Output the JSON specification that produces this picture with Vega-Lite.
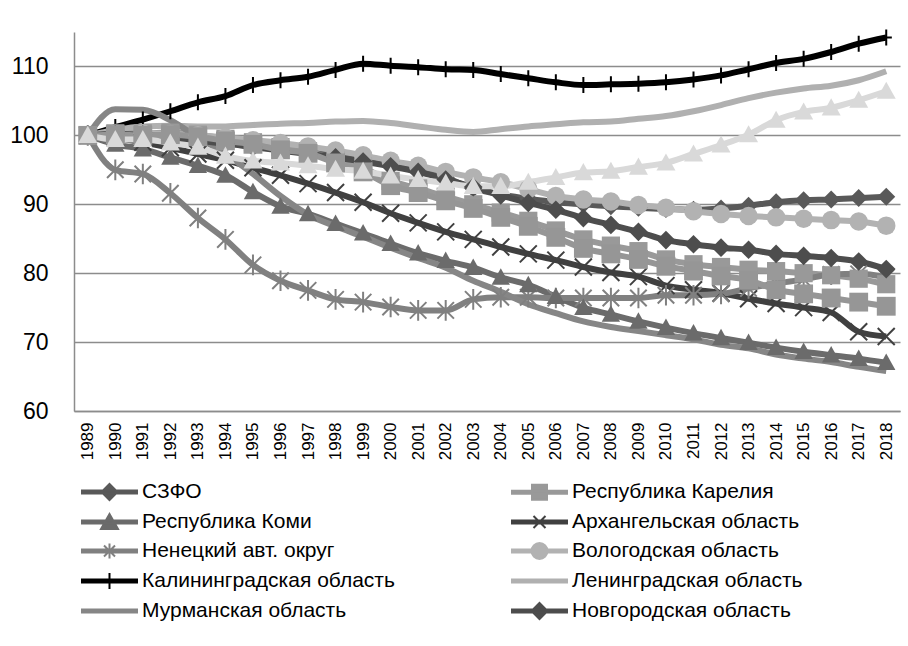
{
"$schema":"https://vega.github.io/schema/vega-lite/v6.json",
"width":826,"height":379,
"autosize":{"type":"none"},
"padding":{"left":74,"top":32,"right":8,"bottom":235},
"background":"white",
"config":{"font":"Liberation Sans","view":{"stroke":null}},
"data":{"values":[
{"year":"1989","region":"СЗФО","index":100},{"year":"1990","region":"СЗФО","index":100.4},{"year":"1991","region":"СЗФО","index":100.3},{"year":"1992","region":"СЗФО","index":99.9},{"year":"1993","region":"СЗФО","index":99.4},{"year":"1994","region":"СЗФО","index":99.0},{"year":"1995","region":"СЗФО","index":98.6},{"year":"1996","region":"СЗФО","index":98.2},{"year":"1997","region":"СЗФО","index":97.8},{"year":"1998","region":"СЗФО","index":97.3},{"year":"1999","region":"СЗФО","index":96.8},{"year":"2000","region":"СЗФО","index":96.2},{"year":"2001","region":"СЗФО","index":95.4},{"year":"2002","region":"СЗФО","index":93.9},{"year":"2003","region":"СЗФО","index":92.3},{"year":"2004","region":"СЗФО","index":91.4},{"year":"2005","region":"СЗФО","index":90.8},{"year":"2006","region":"СЗФО","index":90.3},{"year":"2007","region":"СЗФО","index":90.0},{"year":"2008","region":"СЗФО","index":89.7},{"year":"2009","region":"СЗФО","index":89.5},{"year":"2010","region":"СЗФО","index":89.3},{"year":"2011","region":"СЗФО","index":89.2},{"year":"2012","region":"СЗФО","index":89.4},{"year":"2013","region":"СЗФО","index":89.8},{"year":"2014","region":"СЗФО","index":90.3},{"year":"2015","region":"СЗФО","index":90.6},{"year":"2016","region":"СЗФО","index":90.7},{"year":"2017","region":"СЗФО","index":90.9},{"year":"2018","region":"СЗФО","index":91.1},
{"year":"1989","region":"Республика Карелия","index":100},{"year":"1990","region":"Республика Карелия","index":100.3},{"year":"1991","region":"Республика Карелия","index":100.3},{"year":"1992","region":"Республика Карелия","index":100.4},{"year":"1993","region":"Республика Карелия","index":100.1},{"year":"1994","region":"Республика Карелия","index":99.5},{"year":"1995","region":"Республика Карелия","index":99.0},{"year":"1996","region":"Республика Карелия","index":98.3},{"year":"1997","region":"Республика Карелия","index":97.7},{"year":"1998","region":"Республика Карелия","index":96.4},{"year":"1999","region":"Республика Карелия","index":95.3},{"year":"2000","region":"Республика Карелия","index":93.4},{"year":"2001","region":"Республика Карелия","index":92.3},{"year":"2002","region":"Республика Карелия","index":91.1},{"year":"2003","region":"Республика Карелия","index":90.0},{"year":"2004","region":"Республика Карелия","index":88.8},{"year":"2005","region":"Республика Карелия","index":87.6},{"year":"2006","region":"Республика Карелия","index":86.2},{"year":"2007","region":"Республика Карелия","index":84.9},{"year":"2008","region":"Республика Карелия","index":84.0},{"year":"2009","region":"Республика Карелия","index":83.2},{"year":"2010","region":"Республика Карелия","index":82.0},{"year":"2011","region":"Республика Карелия","index":81.3},{"year":"2012","region":"Республика Карелия","index":80.9},{"year":"2013","region":"Республика Карелия","index":80.5},{"year":"2014","region":"Республика Карелия","index":80.3},{"year":"2015","region":"Республика Карелия","index":80.0},{"year":"2016","region":"Республика Карелия","index":79.7},{"year":"2017","region":"Республика Карелия","index":79.2},{"year":"2018","region":"Республика Карелия","index":78.4},
{"year":"1989","region":"Республика Коми","index":100},{"year":"1990","region":"Республика Коми","index":98.7},{"year":"1991","region":"Республика Коми","index":98.0},{"year":"1992","region":"Республика Коми","index":96.8},{"year":"1993","region":"Республика Коми","index":95.6},{"year":"1994","region":"Республика Коми","index":94.2},{"year":"1995","region":"Республика Коми","index":91.8},{"year":"1996","region":"Республика Коми","index":89.7},{"year":"1997","region":"Республика Коми","index":88.6},{"year":"1998","region":"Республика Коми","index":87.2},{"year":"1999","region":"Республика Коми","index":85.8},{"year":"2000","region":"Республика Коми","index":84.3},{"year":"2001","region":"Республика Коми","index":82.9},{"year":"2002","region":"Республика Коми","index":81.8},{"year":"2003","region":"Республика Коми","index":80.8},{"year":"2004","region":"Республика Коми","index":79.4},{"year":"2005","region":"Республика Коми","index":78.3},{"year":"2006","region":"Республика Коми","index":76.6},{"year":"2007","region":"Республика Коми","index":75.0},{"year":"2008","region":"Республика Коми","index":74.0},{"year":"2009","region":"Республика Коми","index":73.0},{"year":"2010","region":"Республика Коми","index":72.1},{"year":"2011","region":"Республика Коми","index":71.3},{"year":"2012","region":"Республика Коми","index":70.6},{"year":"2013","region":"Республика Коми","index":69.9},{"year":"2014","region":"Республика Коми","index":69.2},{"year":"2015","region":"Республика Коми","index":68.6},{"year":"2016","region":"Республика Коми","index":68.1},{"year":"2017","region":"Республика Коми","index":67.6},{"year":"2018","region":"Республика Коми","index":67.0},
{"year":"1989","region":"Архангельская область","index":100},{"year":"1990","region":"Архангельская область","index":99.6},{"year":"1991","region":"Архангельская область","index":99.0},{"year":"1992","region":"Архангельская область","index":98.2},{"year":"1993","region":"Архангельская область","index":97.3},{"year":"1994","region":"Архангельская область","index":96.4},{"year":"1995","region":"Архангельская область","index":95.3},{"year":"1996","region":"Архангельская область","index":94.2},{"year":"1997","region":"Архангельская область","index":93.0},{"year":"1998","region":"Архангельская область","index":91.7},{"year":"1999","region":"Архангельская область","index":90.3},{"year":"2000","region":"Архангельская область","index":88.7},{"year":"2001","region":"Архангельская область","index":87.3},{"year":"2002","region":"Архангельская область","index":86.0},{"year":"2003","region":"Архангельская область","index":84.9},{"year":"2004","region":"Архангельская область","index":83.8},{"year":"2005","region":"Архангельская область","index":82.8},{"year":"2006","region":"Архангельская область","index":81.9},{"year":"2007","region":"Архангельская область","index":80.9},{"year":"2008","region":"Архангельская область","index":80.1},{"year":"2009","region":"Архангельская область","index":79.5},{"year":"2010","region":"Архангельская область","index":78.2},{"year":"2011","region":"Архангельская область","index":77.6},{"year":"2012","region":"Архангельская область","index":77.1},{"year":"2013","region":"Архангельская область","index":76.3},{"year":"2014","region":"Архангельская область","index":75.6},{"year":"2015","region":"Архангельская область","index":75.0},{"year":"2016","region":"Архангельская область","index":74.3},{"year":"2017","region":"Архангельская область","index":71.5},{"year":"2018","region":"Архангельская область","index":70.8},
{"year":"1989","region":"Ненецкий авт. округ","index":100},{"year":"1990","region":"Ненецкий авт. округ","index":95.0},{"year":"1991","region":"Ненецкий авт. округ","index":94.4},{"year":"1992","region":"Ненецкий авт. округ","index":91.6},{"year":"1993","region":"Ненецкий авт. округ","index":88.0},{"year":"1994","region":"Ненецкий авт. округ","index":84.9},{"year":"1995","region":"Ненецкий авт. округ","index":81.2},{"year":"1996","region":"Ненецкий авт. округ","index":78.9},{"year":"1997","region":"Ненецкий авт. округ","index":77.5},{"year":"1998","region":"Ненецкий авт. округ","index":76.2},{"year":"1999","region":"Ненецкий авт. округ","index":75.8},{"year":"2000","region":"Ненецкий авт. округ","index":75.1},{"year":"2001","region":"Ненецкий авт. округ","index":74.6},{"year":"2002","region":"Ненецкий авт. округ","index":74.6},{"year":"2003","region":"Ненецкий авт. округ","index":76.2},{"year":"2004","region":"Ненецкий авт. округ","index":76.5},{"year":"2005","region":"Ненецкий авт. округ","index":76.5},{"year":"2006","region":"Ненецкий авт. округ","index":76.4},{"year":"2007","region":"Ненецкий авт. округ","index":76.4},{"year":"2008","region":"Ненецкий авт. округ","index":76.4},{"year":"2009","region":"Ненецкий авт. округ","index":76.4},{"year":"2010","region":"Ненецкий авт. округ","index":76.8},{"year":"2011","region":"Ненецкий авт. округ","index":76.8},{"year":"2012","region":"Ненецкий авт. округ","index":77.0},{"year":"2013","region":"Ненецкий авт. округ","index":77.8},{"year":"2014","region":"Ненецкий авт. округ","index":78.5},{"year":"2015","region":"Ненецкий авт. округ","index":79.1},{"year":"2016","region":"Ненецкий авт. округ","index":79.8},{"year":"2017","region":"Ненецкий авт. округ","index":79.9},{"year":"2018","region":"Ненецкий авт. округ","index":79.4},
{"year":"1989","region":"Вологодская область","index":100},{"year":"1990","region":"Вологодская область","index":100.2},{"year":"1991","region":"Вологодская область","index":100.3},{"year":"1992","region":"Вологодская область","index":100.2},{"year":"1993","region":"Вологодская область","index":100.0},{"year":"1994","region":"Вологодская область","index":99.7},{"year":"1995","region":"Вологодская область","index":99.3},{"year":"1996","region":"Вологодская область","index":98.9},{"year":"1997","region":"Вологодская область","index":98.4},{"year":"1998","region":"Вологодская область","index":97.8},{"year":"1999","region":"Вологодская область","index":97.1},{"year":"2000","region":"Вологодская область","index":96.3},{"year":"2001","region":"Вологодская область","index":95.6},{"year":"2002","region":"Вологодская область","index":94.7},{"year":"2003","region":"Вологодская область","index":93.9},{"year":"2004","region":"Вологодская область","index":93.2},{"year":"2005","region":"Вологодская область","index":92.2},{"year":"2006","region":"Вологодская область","index":91.2},{"year":"2007","region":"Вологодская область","index":90.7},{"year":"2008","region":"Вологодская область","index":90.4},{"year":"2009","region":"Вологодская область","index":89.9},{"year":"2010","region":"Вологодская область","index":89.5},{"year":"2011","region":"Вологодская область","index":89.0},{"year":"2012","region":"Вологодская область","index":88.6},{"year":"2013","region":"Вологодская область","index":88.3},{"year":"2014","region":"Вологодская область","index":88.1},{"year":"2015","region":"Вологодская область","index":87.9},{"year":"2016","region":"Вологодская область","index":87.7},{"year":"2017","region":"Вологодская область","index":87.5},{"year":"2018","region":"Вологодская область","index":86.9},
{"year":"1989","region":"Калининградская область","index":100},{"year":"1990","region":"Калининградская область","index":101.2},{"year":"1991","region":"Калининградская область","index":102.3},{"year":"1992","region":"Калининградская область","index":103.5},{"year":"1993","region":"Калининградская область","index":104.8},{"year":"1994","region":"Калининградская область","index":105.7},{"year":"1995","region":"Калининградская область","index":107.3},{"year":"1996","region":"Калининградская область","index":108.0},{"year":"1997","region":"Калининградская область","index":108.5},{"year":"1998","region":"Калининградская область","index":109.5},{"year":"1999","region":"Калининградская область","index":110.4},{"year":"2000","region":"Калининградская область","index":110.1},{"year":"2001","region":"Калининградская область","index":109.9},{"year":"2002","region":"Калининградская область","index":109.6},{"year":"2003","region":"Калининградская область","index":109.5},{"year":"2004","region":"Калининградская область","index":108.9},{"year":"2005","region":"Калининградская область","index":108.3},{"year":"2006","region":"Калининградская область","index":107.7},{"year":"2007","region":"Калининградская область","index":107.3},{"year":"2008","region":"Калининградская область","index":107.4},{"year":"2009","region":"Калининградская область","index":107.5},{"year":"2010","region":"Калининградская область","index":107.7},{"year":"2011","region":"Калининградская область","index":108.1},{"year":"2012","region":"Калининградская область","index":108.7},{"year":"2013","region":"Калининградская область","index":109.6},{"year":"2014","region":"Калининградская область","index":110.5},{"year":"2015","region":"Калининградская область","index":111.1},{"year":"2016","region":"Калининградская область","index":112.1},{"year":"2017","region":"Калининградская область","index":113.3},{"year":"2018","region":"Калининградская область","index":114.2},
{"year":"1989","region":"Ленинградская область","index":100},{"year":"1990","region":"Ленинградская область","index":100.8},{"year":"1991","region":"Ленинградская область","index":101.3},{"year":"1992","region":"Ленинградская область","index":101.4},{"year":"1993","region":"Ленинградская область","index":101.3},{"year":"1994","region":"Ленинградская область","index":101.3},{"year":"1995","region":"Ленинградская область","index":101.5},{"year":"1996","region":"Ленинградская область","index":101.7},{"year":"1997","region":"Ленинградская область","index":101.8},{"year":"1998","region":"Ленинградская область","index":102.0},{"year":"1999","region":"Ленинградская область","index":102.1},{"year":"2000","region":"Ленинградская область","index":101.8},{"year":"2001","region":"Ленинградская область","index":101.3},{"year":"2002","region":"Ленинградская область","index":100.8},{"year":"2003","region":"Ленинградская область","index":100.5},{"year":"2004","region":"Ленинградская область","index":100.9},{"year":"2005","region":"Ленинградская область","index":101.3},{"year":"2006","region":"Ленинградская область","index":101.6},{"year":"2007","region":"Ленинградская область","index":101.9},{"year":"2008","region":"Ленинградская область","index":102.0},{"year":"2009","region":"Ленинградская область","index":102.4},{"year":"2010","region":"Ленинградская область","index":102.8},{"year":"2011","region":"Ленинградская область","index":103.5},{"year":"2012","region":"Ленинградская область","index":104.4},{"year":"2013","region":"Ленинградская область","index":105.4},{"year":"2014","region":"Ленинградская область","index":106.2},{"year":"2015","region":"Ленинградская область","index":106.8},{"year":"2016","region":"Ленинградская область","index":107.2},{"year":"2017","region":"Ленинградская область","index":108.0},{"year":"2018","region":"Ленинградская область","index":109.3},
{"year":"1989","region":"Мурманская область","index":100},{"year":"1990","region":"Мурманская область","index":103.8},{"year":"1991","region":"Мурманская область","index":103.7},{"year":"1992","region":"Мурманская область","index":102.2},{"year":"1993","region":"Мурманская область","index":99.7},{"year":"1994","region":"Мурманская область","index":97.3},{"year":"1995","region":"Мурманская область","index":94.4},{"year":"1996","region":"Мурманская область","index":91.2},{"year":"1997","region":"Мурманская область","index":88.5},{"year":"1998","region":"Мурманская область","index":86.8},{"year":"1999","region":"Мурманская область","index":85.3},{"year":"2000","region":"Мурманская область","index":83.7},{"year":"2001","region":"Мурманская область","index":82.2},{"year":"2002","region":"Мурманская область","index":80.8},{"year":"2003","region":"Мурманская область","index":78.9},{"year":"2004","region":"Мурманская область","index":77.3},{"year":"2005","region":"Мурманская область","index":75.5},{"year":"2006","region":"Мурманская область","index":74.2},{"year":"2007","region":"Мурманская область","index":73.0},{"year":"2008","region":"Мурманская область","index":72.2},{"year":"2009","region":"Мурманская область","index":71.6},{"year":"2010","region":"Мурманская область","index":71.0},{"year":"2011","region":"Мурманская область","index":70.4},{"year":"2012","region":"Мурманская область","index":69.6},{"year":"2013","region":"Мурманская область","index":69.1},{"year":"2014","region":"Мурманская область","index":68.2},{"year":"2015","region":"Мурманская область","index":67.6},{"year":"2016","region":"Мурманская область","index":67.1},{"year":"2017","region":"Мурманская область","index":66.4},{"year":"2018","region":"Мурманская область","index":65.8},
{"year":"1989","region":"Новгородская область","index":100},{"year":"1990","region":"Новгородская область","index":100.2},{"year":"1991","region":"Новгородская область","index":100.1},{"year":"1992","region":"Новгородская область","index":99.7},{"year":"1993","region":"Новгородская область","index":99.2},{"year":"1994","region":"Новгородская область","index":98.8},{"year":"1995","region":"Новгородская область","index":98.3},{"year":"1996","region":"Новгородская область","index":97.8},{"year":"1997","region":"Новгородская область","index":97.3},{"year":"1998","region":"Новгородская область","index":96.8},{"year":"1999","region":"Новгородская область","index":96.2},{"year":"2000","region":"Новгородская область","index":95.5},{"year":"2001","region":"Новгородская область","index":94.7},{"year":"2002","region":"Новгородская область","index":93.6},{"year":"2003","region":"Новгородская область","index":92.5},{"year":"2004","region":"Новгородская область","index":91.3},{"year":"2005","region":"Новгородская область","index":90.2},{"year":"2006","region":"Новгородская область","index":89.2},{"year":"2007","region":"Новгородская область","index":88.0},{"year":"2008","region":"Новгородская область","index":87.0},{"year":"2009","region":"Новгородская область","index":86.0},{"year":"2010","region":"Новгородская область","index":84.8},{"year":"2011","region":"Новгородская область","index":84.2},{"year":"2012","region":"Новгородская область","index":83.7},{"year":"2013","region":"Новгородская область","index":83.4},{"year":"2014","region":"Новгородская область","index":82.8},{"year":"2015","region":"Новгородская область","index":82.5},{"year":"2016","region":"Новгородская область","index":82.2},{"year":"2017","region":"Новгородская область","index":81.7},{"year":"2018","region":"Новгородская область","index":80.6},
{"year":"1989","region":"Псковская область","index":100},{"year":"1990","region":"Псковская область","index":100.1},{"year":"1991","region":"Псковская область","index":100.0},{"year":"1992","region":"Псковская область","index":100.1},{"year":"1993","region":"Псковская область","index":99.8},{"year":"1994","region":"Псковская область","index":99.2},{"year":"1995","region":"Псковская область","index":98.7},{"year":"1996","region":"Псковская область","index":97.9},{"year":"1997","region":"Псковская область","index":97.4},{"year":"1998","region":"Псковская область","index":96.0},{"year":"1999","region":"Псковская область","index":94.7},{"year":"2000","region":"Псковская область","index":92.7},{"year":"2001","region":"Псковская область","index":91.7},{"year":"2002","region":"Псковская область","index":90.5},{"year":"2003","region":"Псковская область","index":89.4},{"year":"2004","region":"Псковская область","index":88.1},{"year":"2005","region":"Псковская область","index":86.8},{"year":"2006","region":"Псковская область","index":85.2},{"year":"2007","region":"Псковская область","index":83.6},{"year":"2008","region":"Псковская область","index":82.8},{"year":"2009","region":"Псковская область","index":82.0},{"year":"2010","region":"Псковская область","index":81.0},{"year":"2011","region":"Псковская область","index":80.3},{"year":"2012","region":"Псковская область","index":79.6},{"year":"2013","region":"Псковская область","index":79.0},{"year":"2014","region":"Псковская область","index":77.6},{"year":"2015","region":"Псковская область","index":77.0},{"year":"2016","region":"Псковская область","index":76.4},{"year":"2017","region":"Псковская область","index":75.8},{"year":"2018","region":"Псковская область","index":75.2},
{"year":"1989","region":"г. Санкт-Петербург","index":100},{"year":"1990","region":"г. Санкт-Петербург","index":99.4},{"year":"1991","region":"г. Санкт-Петербург","index":99.4},{"year":"1992","region":"г. Санкт-Петербург","index":98.9},{"year":"1993","region":"г. Санкт-Петербург","index":98.3},{"year":"1994","region":"г. Санкт-Петербург","index":97.0},{"year":"1995","region":"г. Санкт-Петербург","index":96.3},{"year":"1996","region":"г. Санкт-Петербург","index":96.0},{"year":"1997","region":"г. Санкт-Петербург","index":95.6},{"year":"1998","region":"г. Санкт-Петербург","index":95.1},{"year":"1999","region":"г. Санкт-Петербург","index":94.8},{"year":"2000","region":"г. Санкт-Петербург","index":94.1},{"year":"2001","region":"г. Санкт-Петербург","index":93.6},{"year":"2002","region":"г. Санкт-Петербург","index":93.1},{"year":"2003","region":"г. Санкт-Петербург","index":92.6},{"year":"2004","region":"г. Санкт-Петербург","index":92.6},{"year":"2005","region":"г. Санкт-Петербург","index":93.2},{"year":"2006","region":"г. Санкт-Петербург","index":93.9},{"year":"2007","region":"г. Санкт-Петербург","index":94.6},{"year":"2008","region":"г. Санкт-Петербург","index":94.8},{"year":"2009","region":"г. Санкт-Петербург","index":95.4},{"year":"2010","region":"г. Санкт-Петербург","index":96.0},{"year":"2011","region":"г. Санкт-Петербург","index":97.3},{"year":"2012","region":"г. Санкт-Петербург","index":98.6},{"year":"2013","region":"г. Санкт-Петербург","index":100.1},{"year":"2014","region":"г. Санкт-Петербург","index":102.2},{"year":"2015","region":"г. Санкт-Петербург","index":103.4},{"year":"2016","region":"г. Санкт-Петербург","index":104.0},{"year":"2017","region":"г. Санкт-Петербург","index":105.1},{"year":"2018","region":"г. Санкт-Петербург","index":106.4}
]},
"encoding":{
"x":{"field":"year","type":"ordinal","scale":{"type":"point","padding":0.5},"axis":{"title":null,"labelAngle":270,"labelFontSize":17,"labelColor":"#000000","ticks":false,"tickSize":0,"labelPadding":11,"domainColor":"#8c8c8c","domainWidth":1.5,"grid":false}},
"y":{"field":"index","type":"quantitative","scale":{"domain":[60,115],"nice":false,"zero":false},"axis":{"title":null,"values":[60,70,80,90,100,110],"labelFontSize":23,"labelColor":"#000000","ticks":false,"tickSize":0,"labelPadding":26,"domainColor":"#8c8c8c","domainWidth":1.5,"grid":true,"gridColor":"#8c8c8c","gridWidth":1.5,"gridOpacity":1}},
"color":{"field":"region","type":"nominal",
 "scale":{"domain":["СЗФО","Республика Карелия","Республика Коми","Архангельская область","Ненецкий авт. округ","Вологодская область","Калининградская область","Ленинградская область","Мурманская область","Новгородская область","Псковская область","г. Санкт-Петербург"],
  "range":["#595959","#999999","#6b6b6b","#404040","#808080","#b2b2b2","#000000","#b0b0b0","#868686","#4d4d4d","#969696","#d9d9d9"]},
 "legend":{"orient":"none","legendX":24.5,"legendY":449,"direction":"horizontal","columns":2,"columnPadding":112,"rowPadding":6,"padding":0,"title":null,
  "values":["СЗФО","Республика Карелия","Республика Коми","Архангельская область","Ненецкий авт. округ","Вологодская область","Калининградская область","Ленинградская область","Мурманская область","Новгородская область"],
  "labelFontSize":21,"labelColor":"#000000","labelOffset":21.5,"labelLimit":400,"symbolSize":400,"symbolStrokeWidth":2,
  "encode":{"symbols":{"update":{
   "shape":{"signal":"(datum.value === 'СЗФО' || datum.value === 'Новгородская область') ? 'M-2.75,-0.15H2.75V0.15H-2.75ZM0,-0.8L0.8,0L0,0.8L-0.8,0Z' : datum.value === 'Республика Карелия' ? 'M-2.75,-0.15H2.75V0.15H-2.75ZM-0.75,-0.75H0.75V0.75H-0.75Z' : datum.value === 'Республика Коми' ? 'M-2.75,-0.15H2.75V0.15H-2.75ZM0,-0.8L0.85,0.7L-0.85,0.7Z' : datum.value === 'Архангельская область' ? 'M-2.75,-0.15H2.75V0.15H-2.75ZM-0.6,-0.6L0.6,0.6M-0.6,0.6L0.6,-0.6' : datum.value === 'Ненецкий авт. округ' ? 'M-2.75,-0.15H2.75V0.15H-2.75ZM-0.55,-0.55L0.55,0.55M-0.55,0.55L0.55,-0.55M0,-0.75L0,0.75' : datum.value === 'Вологодская область' ? 'M-2.75,-0.15H2.75V0.15H-2.75ZM-0.8,0A0.8,0.8 0 1,1 0.8,0A0.8,0.8 0 1,1 -0.8,0Z' : datum.value === 'Калининградская область' ? 'M-2.75,-0.15H2.75V0.15H-2.75ZM0,-0.8L0,0.8' : 'M-2.75,-0.15H2.75V0.15H-2.75Z'"},
   "fill":{"scale":"color","field":"value"},
   "stroke":{"scale":"color","field":"value"},
   "strokeWidth":{"value":2},
   "size":{"value":400},
   "opacity":{"value":1}
  }}}
 }
}
},
"layer":[
{"mark":{"type":"line","interpolate":"monotone","strokeWidth":6}},
{"transform":[{"filter":{"field":"region","oneOf":["Архангельская область","Ненецкий авт. округ","Калининградская область"]}}],
 "mark":{"type":"point","filled":false,"strokeWidth":2,"opacity":1},
 "encoding":{
  "shape":{"field":"region","type":"nominal","legend":null,"scale":{"domain":["Архангельская область","Ненецкий авт. округ","Калининградская область"],"range":["M-1,-1L1,1M-1,1L1,-1","M-1,-1L1,1M-1,1L1,-1M0,-1.25L0,1.25","M0,-1L0,1M-0.7,0L0.7,0"]}},
  "size":{"field":"region","type":"nominal","legend":null,"scale":{"domain":["Архангельская область","Ненецкий авт. округ","Калининградская область"],"range":[289,256,324]}}
 }},
{"transform":[{"filter":{"field":"region","oneOf":["СЗФО","Республика Карелия","Республика Коми","Вологодская область","Новгородская область","Псковская область","г. Санкт-Петербург"]}}],
 "mark":{"type":"point","filled":true,"opacity":1},
 "encoding":{
  "shape":{"field":"region","type":"nominal","legend":null,"scale":{"domain":["СЗФО","Республика Карелия","Республика Коми","Вологодская область","Новгородская область","Псковская область","г. Санкт-Петербург"],"range":["diamond","square","M0,-1L1,0.8L-1,0.8Z","circle","diamond","square","M0,-1L1,0.8L-1,0.8Z"]}},
  "size":{"field":"region","type":"nominal","legend":null,"scale":{"domain":["СЗФО","Республика Карелия","Республика Коми","Вологодская область","Новгородская область","Псковская область","г. Санкт-Петербург"],"range":[324,361,324,361,324,361,324]}}
 }}
],
"resolve":{"scale":{"shape":"independent","size":"independent"}}
}
